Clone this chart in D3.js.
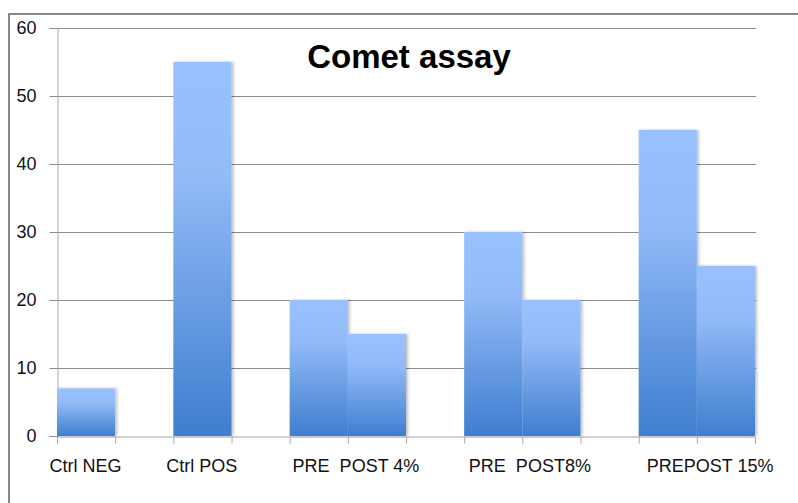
<!DOCTYPE html>
<html>
<head>
<meta charset="utf-8">
<script src="https://cdn.jsdelivr.net/npm/d3@7"></script>
<style>
  html, body { margin: 0; padding: 0; background: #fff; }
  svg { display: block; }
</style>
</head>
<body>
<svg id="chart" width="798" height="503"></svg>
<script>
// ---- data ----
const title = "Comet assay";
const slotCount = 12;                       // category slots on the x axis
const barSlots  = [0, 2, 4, 5, 7, 8, 10, 11];
const barValues = [7, 55, 20, 15, 30, 20, 45, 25];
const xLabels   = ["Ctrl NEG", "Ctrl POS", "PRE  POST 4%", "PRE  POST8%", "PREPOST 15%"];
const xLabelAt  = [0.49, 2.49, 5.14, 8.13, 11.23];   // label centres in slot units
const yTicks    = [0, 10, 20, 30, 40, 50, 60];

// ---- layout ----
const W = 798, H = 503;
const plot = { left: 57, right: 755, top: 28, bottom: 436 };

const svg = d3.select("#chart");

// outer chart border
svg.append("rect")
  .attr("x", 9).attr("y", 14)
  .attr("width", W + 10).attr("height", H + 10)
  .attr("fill", "none").attr("stroke", "#878787").attr("stroke-width", 2);

const x = d3.scaleLinear().domain([0, slotCount]).range([plot.left, plot.right]);
const y = d3.scaleLinear().domain([0, 60]).range([plot.bottom, plot.top]);

// gradient
const defs = svg.append("defs");
const grad = defs.append("linearGradient")
  .attr("id", "barGrad").attr("x1", 0).attr("y1", 0).attr("x2", 0).attr("y2", 1);
grad.append("stop").attr("offset", "0%").attr("stop-color", "#9ac1ff");
grad.append("stop").attr("offset", "30%").attr("stop-color", "#93bbf8");
grad.append("stop").attr("offset", "100%").attr("stop-color", "#3f7ecf");

const shadow = defs.append("filter").attr("id", "shadow")
  .attr("x", "-10%").attr("y", "-10%").attr("width", "130%").attr("height", "120%");
shadow.append("feGaussianBlur").attr("in", "SourceAlpha").attr("stdDeviation", 1.5).attr("result", "b");
shadow.append("feOffset").attr("in", "b").attr("dx", 2).attr("dy", 0).attr("result", "o");
shadow.append("feComponentTransfer").attr("in", "o").attr("result", "o2")
  .append("feFuncA").attr("type", "linear").attr("slope", 0.25);
const merge = shadow.append("feMerge");
merge.append("feMergeNode").attr("in", "o2");
merge.append("feMergeNode").attr("in", "SourceGraphic");

// gridlines
svg.append("g")
  .selectAll("line").data(yTicks.filter(d => d > 0)).join("line")
  .attr("x1", plot.left).attr("x2", plot.right + 1)
  .attr("y1", d => Math.round(y(d)) + 0.5).attr("y2", d => Math.round(y(d)) + 0.5)
  .attr("stroke", "#8c8c8c").attr("stroke-width", 1);

// y axis
const yAxis = svg.append("g")
  .attr("transform", `translate(${plot.left + 0.5},0)`)
  .call(d3.axisLeft(y).tickValues(yTicks).tickSize(8).tickPadding(13));
yAxis.select(".domain").attr("stroke", "#a6a6a6");
yAxis.selectAll(".tick line").attr("stroke", "#8c8c8c");
yAxis.selectAll(".tick text")
  .attr("font-family", "Liberation Sans, Arial, sans-serif")
  .attr("font-size", 18).attr("fill", "#111");

// bars
svg.append("g")
  .selectAll("rect").data(barValues).join("rect")
  .attr("x", (d, i) => x(barSlots[i]))
  .attr("width", (d, i) => x(barSlots[i] + 1) - x(barSlots[i]))
  .attr("y", d => y(d))
  .attr("height", d => y(0) - y(d))
  .attr("fill", "url(#barGrad)")
  .attr("filter", "url(#shadow)");

// x axis
const xAxis = svg.append("g")
  .attr("transform", `translate(0,${plot.bottom + 0.5})`)
  .call(d3.axisBottom(x).tickValues(d3.range(0, slotCount + 1)).tickSize(7).tickFormat(""));
xAxis.select(".domain").attr("stroke", "#a6a6a6");
xAxis.selectAll(".tick line").attr("stroke", "#a6a6a6");

svg.append("g")
  .selectAll("text").data(xLabels).join("text")
  .attr("x", (d, i) => x(xLabelAt[i]))
  .attr("y", 472)
  .attr("text-anchor", "middle")
  .attr("font-family", "Liberation Sans, Arial, sans-serif")
  .attr("font-size", 18).attr("fill", "#111")
  .style("white-space", "pre")
  .text(d => d);

// title
svg.append("text")
  .attr("x", 409).attr("y", 68)
  .attr("text-anchor", "middle")
  .attr("font-family", "Liberation Sans, Arial, sans-serif")
  .attr("font-weight", "bold").attr("font-size", 33).attr("fill", "#000")
  .text(title);
</script>
</body>
</html>
